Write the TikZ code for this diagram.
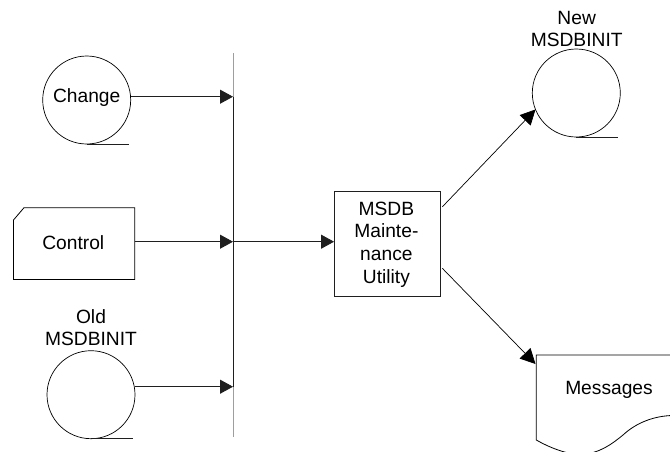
\documentclass[tikz,border=0pt]{standalone}
\usepackage{fontspec}
\setmainfont{Liberation Sans}
\usetikzlibrary{arrows.meta}
\definecolor{ink}{gray}{0.12}
\definecolor{soft}{gray}{0.62}
\tikzset{
  x=1pt,y=-1pt,
  every node/.style={font=\fontsize{19.2}{22.7}\selectfont,align=center,inner sep=0pt,outer sep=0pt,text=black},
  tape/.style={circle,draw=black,line width=0.7pt,minimum size=88pt},
  tail/.style={draw=ink,line width=0.9pt},
  shapeline/.style={draw=black,line width=0.8pt,line join=miter},
  procbox/.style={rectangle,draw=ink,line width=0.9pt,minimum width=106.3pt,minimum height=105.7pt},
  flow/.style={draw=ink,line width=0.9pt,-{Triangle[length=13pt,width=14pt]}},
  diag/.style={draw=black,line width=0.7pt,-{Triangle[length=15pt,width=15pt]}},
  ghost/.style={rectangle,minimum width=10pt,minimum height=10pt}
}
\begin{document}
\begin{tikzpicture}
\useasboundingbox (0,0) rectangle (670,451);
\clip (0,0) rectangle (670,451);
\fill[white] (0,0) rectangle (670,451);

% bus
\coordinate (bustop) at (233.3,53);
\coordinate (busbot) at (233.3,437);
\coordinate (b1) at (233,96.7);
\coordinate (b2) at (233,241.7);
\coordinate (b3) at (233,386.7);
\draw[draw=soft,line width=0.7pt] (bustop) -- (busbot);
\draw[draw=ink,line width=1pt] (b1) -- (b3);

% tapes
\node[tape] (change) at (86.7,100) {};
\node at (86.7,98) {Change};
\node[tape] (old) at (91,394.7) {};
\node[tape] (new) at (576.3,93) {};
\node (oldlabel) at (91,327.5) {Old\\MSDBINIT};
\node (newlabel) at (576.7,29) {New\\MSDBINIT};
\draw[tail] (change.south) -- ++(41.8,0);
\draw[tail] (old.south) -- ++(42,0);
\draw[tail] (new.south) -- ++(41.7,0);

% control card
\draw[shapeline] (24,207.7) -- (134.7,207.7) -- (134.7,279.5) -- (13.5,279.5) -- (13.5,220) -- cycle;
\node[ghost,minimum width=121.2pt,minimum height=71.8pt] (control) at (74.1,243.6) {};
\node at (73.3,242.5) {Control};

% process
\node[procbox] (proc) at (387.2,243.8) {};
\node at (386.4,244.5) {MSDB\\Mainte-\\nance\\Utility};

% messages document
\draw[shapeline] (670,355) -- (536.3,355) -- (536.3,440)
  .. controls (552,449) and (570,455) .. (582,454.5)
  .. controls (600,453) and (612,444) .. (623,435)
  .. controls (637,422) and (655,416) .. (672,415.5);
\node[ghost] (messages) at (609,389.5) {Messages};
\coordinate (msgcorner) at (535.5,364);

% connectors
\draw[flow] (change.east |- b1) -- (b1);
\draw[flow] (control.east |- b2) -- (b2);
\draw[flow] (old.east |- b3) -- (b3);
\draw[flow] (b2) -- (proc.west |- b2);
\draw[diag] ([xshift=2pt,yshift=37pt]proc.east) -- (new.202);
\draw[diag] ([xshift=2pt,yshift=-24.5pt]proc.east) -- (msgcorner);
\end{tikzpicture}
\end{document}
